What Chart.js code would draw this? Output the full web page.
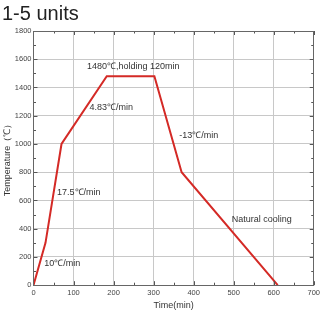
<!DOCTYPE html>
<html><head><meta charset="utf-8">
<script src="https://cdn.jsdelivr.net/npm/chart.js@4/dist/chart.umd.min.js"></script>
<style>html,body{margin:0;padding:0;background:#fff}#wrap{width:323px;height:311px}</style>
</head><body><div id="wrap"><canvas id="c"></canvas></div>
<script>
const timeMin = [0, 30, 70, 183, 302, 370, 610];
const tempC = [0, 300, 1000, 1480, 1480, 800, 0];
const xTicks = [0, 100, 200, 300, 400, 500, 600, 700];
const yTicks = [0, 200, 400, 600, 800, 1000, 1200, 1400, 1600, 1800];
const noteTexts = ["1480℃,holding 120min", "4.83℃/min", "-13℃/min", "17.5℃/min", "10℃/min", "Natural cooling"];
const noteX = [249, 140, 364, 59, 27, 495];
const noteY = [1550, 1260, 1063, 655, 155, 465];
const noteAlign = ["center", "left", "left", "left", "left", "left"];

const FONT = '"Liberation Sans", Arial, sans-serif';
const extras = {
  id: 'extras',
  afterDraw(chart) {
    const ctx = chart.ctx, xs = chart.scales.x, ys = chart.scales.y, a = chart.chartArea;
    ctx.save();
    ctx.strokeStyle = '#555'; ctx.lineWidth = 1;
    ctx.beginPath();
    for (let v = 0; v <= 700; v += 50) {
      const p = Math.round(xs.getPixelForValue(v)) + 0.5, L = v % 100 === 0 ? 4 : 2.5;
      ctx.moveTo(p, a.bottom); ctx.lineTo(p, a.bottom - L);
      ctx.moveTo(p, a.top); ctx.lineTo(p, a.top + L);
    }
    for (let v = 0; v <= 1800; v += 100) {
      const p = Math.round(ys.getPixelForValue(v)) + 0.5, L = v % 200 === 0 ? 4 : 2.5;
      ctx.moveTo(a.left, p); ctx.lineTo(a.left + L, p);
      ctx.moveTo(a.right, p); ctx.lineTo(a.right - L, p);
    }
    ctx.stroke();
    ctx.strokeStyle = '#666';
    ctx.strokeRect(Math.round(a.left) + 0.5, Math.round(a.top) + 0.5, Math.round(a.right - a.left), Math.round(a.bottom - a.top));
    ctx.fillStyle = '#333';
    ctx.font = '9px ' + FONT;
    ctx.textBaseline = 'middle';
    noteTexts.forEach((t, i) => {
      ctx.textAlign = noteAlign[i];
      ctx.fillText(t, xs.getPixelForValue(noteX[i]), ys.getPixelForValue(noteY[i]));
    });
    ctx.restore();
  }
};

new Chart(document.getElementById('c'), {
  type: 'line',
  data: { datasets: [{ data: timeMin.map((t, i) => ({ x: t, y: tempC[i] })), borderColor: '#d42a26', borderWidth: 2, pointRadius: 0, tension: 0, fill: false }] },
  options: {
    responsive: true, maintainAspectRatio: false, animation: false,
    layout: { padding: { left: 2, right: 3, top: 0, bottom: 0 } },
    plugins: {
      legend: { display: false }, tooltip: { enabled: false },
      title: { display: true, text: '1-5 units', align: 'start', color: '#222',
        font: { family: FONT, size: 20, weight: 'normal' },
        padding: { top: 2, bottom: 5 } }
    },
    scales: {
      x: { type: 'linear', min: 0, max: 700, afterBuildTicks: s => { s.ticks = xTicks.map(v => ({ value: v })); },
        grid: { color: '#c8c8c8', drawTicks: false }, border: { display: false },
        ticks: { color: '#444', padding: 3, callback: v => String(v), font: { family: FONT, size: 7.5 }, maxRotation: 0 },
        title: { display: true, text: 'Time(min)', color: '#333', padding: { top: 0, bottom: 0 }, font: { family: FONT, size: 9 } } },
      y: { type: 'linear', min: 0, max: 1800, afterBuildTicks: s => { s.ticks = yTicks.map(v => ({ value: v })); },
        grid: { color: '#c8c8c8', drawTicks: false }, border: { display: false },
        ticks: { color: '#444', padding: 2, callback: v => String(v), font: { family: FONT, size: 7.5 } },
        title: { display: true, text: 'Temperature（℃）', color: '#333', padding: { top: 0, bottom: 0 }, font: { family: FONT, size: 9 } } }
    }
  },
  plugins: [extras]
});
</script></body></html>
